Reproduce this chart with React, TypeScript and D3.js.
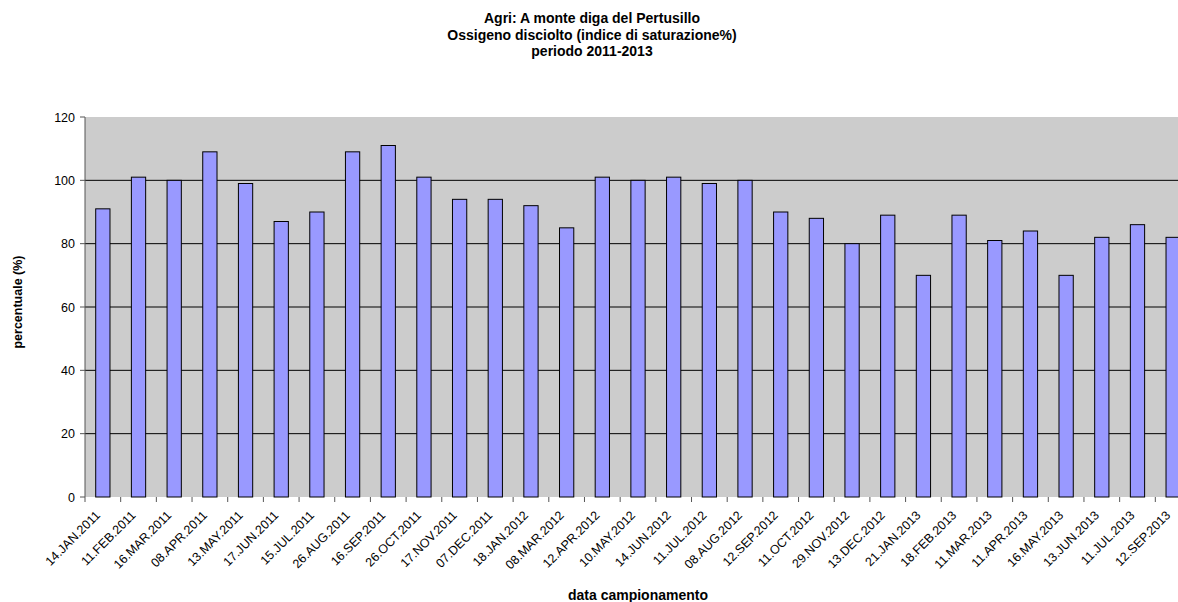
import React, { useRef, useEffect } from "react";
import * as d3 from "d3";

const dates = [
  "14.JAN.2011", "11.FEB.2011", "16.MAR.2011", "08.APR.2011", "13.MAY.2011",
  "17.JUN.2011", "15.JUL.2011", "26.AUG.2011", "16.SEP.2011", "26.OCT.2011",
  "17.NOV.2011", "07.DEC.2011", "18.JAN.2012", "08.MAR.2012", "12.APR.2012",
  "10.MAY.2012", "14.JUN.2012", "11.JUL.2012", "08.AUG.2012", "12.SEP.2012",
  "11.OCT.2012", "29.NOV.2012", "13.DEC.2012", "21.JAN.2013", "18.FEB.2013",
  "11.MAR.2013", "11.APR.2013", "16.MAY.2013", "13.JUN.2013", "11.JUL.2013",
  "12.SEP.2013",
];

const saturation = [
  91, 101, 100, 109, 99, 87, 90, 109, 111, 101, 94, 94, 92, 85, 101, 100, 101,
  99, 100, 90, 88, 80, 89, 70, 89, 81, 84, 70, 82, 86, 82,
];

const yTicks = [0, 20, 40, 60, 80, 100, 120];

const titleLines = [
  "Agri: A monte diga del Pertusillo",
  "Ossigeno disciolto (indice di saturazione%)",
  "periodo 2011-2013",
];

const FONT = "'Liberation Sans', Arial, sans-serif";

const App = () => {
  const width = 1178;
  const height = 602;
  // plot runs past the right edge of the picture, as in the original
  const margin = { top: 117, bottom: 105, left: 85, right: -13 };
  const plotWidth = width - margin.left - margin.right;
  const plotHeight = height - margin.top - margin.bottom;

  const svgRef = useRef<SVGSVGElement>(null);

  useEffect(() => {
    if (!svgRef.current) return;
    const svg = d3.select(svgRef.current);
    svg.selectAll("*").remove();

    const x = d3.scaleBand(dates, [0, plotWidth]).paddingInner(0.6).paddingOuter(0.3);
    const band = d3.scaleBand(dates, [0, plotWidth]);
    const y = d3.scaleLinear([0, 120], [plotHeight, 0]);

    // titles
    svg
      .append("g")
      .selectAll("text")
      .data(titleLines)
      .join("text")
      .attr("x", 592)
      .attr("y", (d, i) => 23 + i * 16.5)
      .attr("text-anchor", "middle")
      .attr("font-family", FONT)
      .attr("font-weight", "bold")
      .attr("font-size", 14)
      .text((d) => d);

    const plot = svg
      .append("g")
      .attr("transform", `translate(${margin.left}, ${margin.top})`);

    plot
      .append("rect")
      .attr("x", 0)
      .attr("y", 0)
      .attr("width", plotWidth)
      .attr("height", plotHeight)
      .attr("fill", "#cccccc");

    plot
      .append("g")
      .selectAll("line")
      .data(yTicks.filter((t) => t > 0 && t < 120))
      .join("line")
      .attr("x1", 0)
      .attr("x2", plotWidth)
      .attr("y1", (d) => y(d))
      .attr("y2", (d) => y(d))
      .attr("stroke", "#000")
      .attr("stroke-width", 1);

    plot
      .append("g")
      .selectAll("rect")
      .data(saturation)
      .join("rect")
      .attr("x", (d, i) => x(dates[i]))
      .attr("y", (d) => y(d))
      .attr("width", x.bandwidth())
      .attr("height", (d) => y(0) - y(d))
      .attr("fill", "#9999ff")
      .attr("stroke", "#000")
      .attr("stroke-width", 1);

    // y axis
    const yAxis = plot.append("g");
    yAxis
      .append("line")
      .attr("x1", 0)
      .attr("x2", 0)
      .attr("y1", 0)
      .attr("y2", plotHeight)
      .attr("stroke", "#555");
    yAxis
      .selectAll("line.tick")
      .data(yTicks)
      .join("line")
      .attr("class", "tick")
      .attr("x1", -5)
      .attr("x2", 0)
      .attr("y1", (d) => y(d))
      .attr("y2", (d) => y(d))
      .attr("stroke", "#555");
    yAxis
      .selectAll("text")
      .data(yTicks)
      .join("text")
      .attr("x", -10)
      .attr("y", (d) => y(d) + 4.5)
      .attr("text-anchor", "end")
      .attr("font-family", FONT)
      .attr("font-size", 12.5)
      .text((d) => d);

    // x axis
    const xAxis = plot.append("g").attr("transform", `translate(0, ${plotHeight})`);
    xAxis
      .append("line")
      .attr("x1", 0)
      .attr("x2", plotWidth)
      .attr("stroke", "#555");
    xAxis
      .selectAll("line")
      .data(dates.concat(["end"]))
      .join("line")
      .attr("x1", (d, i) => i * band.bandwidth())
      .attr("x2", (d, i) => i * band.bandwidth())
      .attr("y1", 0)
      .attr("y2", 5)
      .attr("stroke", "#555");
    xAxis
      .selectAll("text")
      .data(dates)
      .join("text")
      .attr(
        "transform",
        (d) => `translate(${band(d)! + band.bandwidth() / 2 - 2}, 19) rotate(-45)`
      )
      .attr("text-anchor", "end")
      .attr("font-family", FONT)
      .attr("font-size", 12.5)
      .text((d) => d);

    svg
      .append("text")
      .attr("x", margin.left + plotWidth / 2)
      .attr("y", 600)
      .attr("text-anchor", "middle")
      .attr("font-family", FONT)
      .attr("font-weight", "bold")
      .attr("font-size", 14)
      .text("data campionamento");

    svg
      .append("text")
      .attr("transform", `translate(22, ${margin.top + plotHeight / 2 - 5}) rotate(-90)`)
      .attr("text-anchor", "middle")
      .attr("font-family", FONT)
      .attr("font-weight", "bold")
      .attr("font-size", 12.5)
      .text("percentuale (%)");
  }, []);

  return (
    <svg
      ref={svgRef}
      width={width}
      height={height}
      style={{ position: "absolute", left: 0, top: 0, background: "#fff" }}
    />
  );
};

export default App;
